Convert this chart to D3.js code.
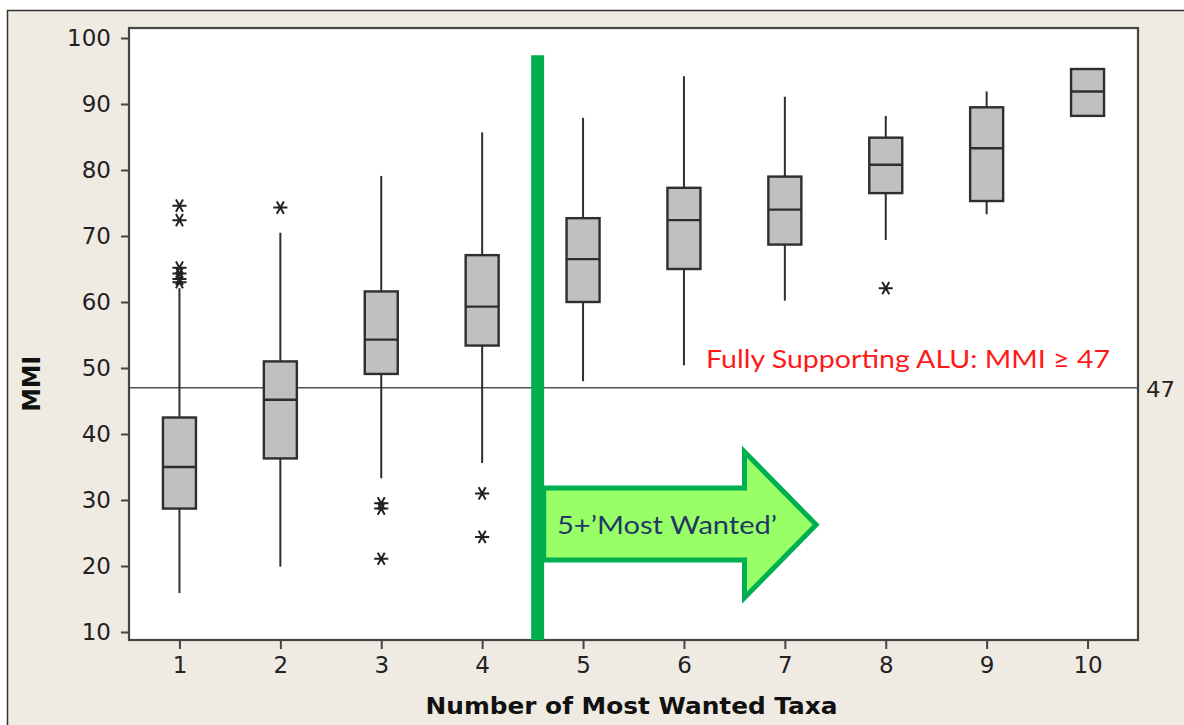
<!DOCTYPE html>
<html>
<head>
<meta charset="utf-8">
<script src="https://cdn.jsdelivr.net/npm/d3@7"></script>
<style>
  html, body { margin: 0; padding: 0; background: #ffffff; }
  svg { display: block; }
</style>
</head>
<body>
<svg id="chart" width="1184" height="725"></svg>
<script>
// ---- data ----
const categories = [1, 2, 3, 4, 5, 6, 7, 8, 9, 10];
const q1Values      = [28.7, 36.3, 49.1, 53.4, 60.0, 65.0, 68.7, 76.5, 75.3, 88.2];
const medianValues  = [35.0, 45.2, 54.3, 59.3, 66.5, 72.4, 74.0, 80.8, 83.3, 91.9];
const q3Values      = [42.5, 51.0, 61.6, 67.1, 72.7, 77.3, 79.0, 84.9, 89.5, 95.3];
const whiskerLow    = [15.9, 19.9, 33.3, 35.6, 48.0, 50.4, 60.2, 69.4, 73.3, 88.2];
const whiskerHigh   = [62.1, 70.5, 79.1, 85.7, 87.9, 94.2, 91.1, 88.2, 91.9, 95.3];
const outlierValues = [
  [74.6, 72.4, 65.2, 64.3, 63.5, 63.0],
  [74.3],
  [29.5, 28.7, 21.1],
  [31.0, 24.4],
  [], [], [],
  [62.1],
  [], []
];
const yTicks = [10, 20, 30, 40, 50, 60, 70, 80, 90, 100];
const thresholdValue = 47;
const dividerX = 4.55;            // position of the green divider (category units)
const dividerTop = 97.4;
const arrowShaft = [31.8, 20.9];  // MMI values of the arrow shaft edges
const arrowHead = [37.3, 15.2];   // MMI values of arrow head edges
const arrowX = [4.61, 6.60, 7.31]; // shaft start, head base, tip (category units)
const arrowLabel = "5+\u2019Most Wanted\u2019";
const thresholdLabel = "Fully Supporting ALU: MMI \u2265 47";
const xTitle = "Number of Most Wanted Taxa";
const yTitle = "MMI";

// ---- layout ----
const W = 1184, H = 725;
const plot = { left: 129, top: 28, right: 1138, bottom: 640 };
const svg = d3.select("#chart");

const x = d3.scaleLinear().domain([0.5, 10.5]).range([plot.left, plot.right]);
const y = d3.scaleLinear().domain([10, 100]).range([632, 38]);

const tickFont = "'DejaVu Sans', sans-serif";
const boldFont = "'DejaVu Sans', sans-serif";

// background / frame
svg.append("rect").attr("x", 0).attr("y", 0).attr("width", W).attr("height", H).attr("fill", "#ffffff");
svg.append("rect").attr("x", 7).attr("y", 10).attr("width", W - 7).attr("height", H - 10).attr("fill", "#efebe2");
svg.append("path")
  .attr("d", `M7.5,${H} L7.5,10.5 L${W},10.5`)
  .attr("fill", "none").attr("stroke", "#333").attr("stroke-width", 1.5);

// plot area
svg.append("rect")
  .attr("x", plot.left).attr("y", plot.top)
  .attr("width", plot.right - plot.left).attr("height", plot.bottom - plot.top)
  .attr("fill", "#ffffff");

// threshold line
svg.append("line")
  .attr("x1", plot.left).attr("x2", plot.right)
  .attr("y1", y(thresholdValue)).attr("y2", y(thresholdValue))
  .attr("stroke", "#555").attr("stroke-width", 1.6);
svg.append("text")
  .attr("x", plot.right + 8).attr("y", y(thresholdValue) + 9)
  .attr("font-family", tickFont).attr("font-size", 22).attr("fill", "#222")
  .attr("textLength", 29).attr("lengthAdjust", "spacingAndGlyphs")
  .text(thresholdValue);

// boxes
const boxW = 33;
const data = categories.map((c, i) => ({
  c, q1: q1Values[i], med: medianValues[i], q3: q3Values[i],
  lo: whiskerLow[i], hi: whiskerHigh[i], out: outlierValues[i]
}));

const g = svg.append("g");
const stroke = "#2e2e2e";
data.forEach(d => {
  const cx = x(d.c);
  if (d.hi > d.q3) g.append("line").attr("x1", cx).attr("x2", cx).attr("y1", y(d.q3)).attr("y2", y(d.hi))
    .attr("stroke", stroke).attr("stroke-width", 2);
  if (d.lo < d.q1) g.append("line").attr("x1", cx).attr("x2", cx).attr("y1", y(d.q1)).attr("y2", y(d.lo))
    .attr("stroke", stroke).attr("stroke-width", 2);
  g.append("rect")
    .attr("x", cx - boxW / 2).attr("y", y(d.q3))
    .attr("width", boxW).attr("height", y(d.q1) - y(d.q3))
    .attr("fill", "#c0c0c0").attr("stroke", stroke).attr("stroke-width", 2.4);
  g.append("line").attr("x1", cx - boxW / 2).attr("x2", cx + boxW / 2)
    .attr("y1", y(d.med)).attr("y2", y(d.med))
    .attr("stroke", stroke).attr("stroke-width", 2.4);
  d.out.forEach(v => {
    g.append("path")
      .attr("d", d3.symbol().type(d3.symbolAsterisk).size(140)())
      .attr("transform", `translate(${cx},${y(v)}) rotate(90)`)
      .attr("fill", "none").attr("stroke", "#222").attr("stroke-width", 2);
  });
});

// plot border
svg.append("rect")
  .attr("x", plot.left).attr("y", plot.top)
  .attr("width", plot.right - plot.left).attr("height", plot.bottom - plot.top)
  .attr("fill", "none").attr("stroke", "#444").attr("stroke-width", 2.2);

// axes
const yAxis = d3.axisLeft(y).tickValues(yTicks).tickSize(8).tickPadding(10);
const yG = svg.append("g").attr("transform", `translate(${plot.left},0)`).call(yAxis);
yG.select(".domain").remove();
yG.selectAll(".tick line").attr("stroke", "#444").attr("stroke-width", 2);
yG.selectAll(".tick text").attr("font-family", tickFont).attr("font-size", 23).attr("fill", "#222");

const xAxis = d3.axisBottom(x).tickValues(categories).tickSize(9).tickPadding(8).tickFormat(d3.format("d"));
const xG = svg.append("g").attr("transform", `translate(0,${plot.bottom})`).call(xAxis);
xG.select(".domain").remove();
xG.selectAll(".tick line").attr("stroke", "#444").attr("stroke-width", 2);
xG.selectAll(".tick text").attr("font-family", tickFont).attr("font-size", 23).attr("fill", "#222");

// titles
svg.append("text")
  .attr("x", (x(1) + x(10)) / 2 - 2).attr("y", 714)
  .attr("text-anchor", "middle")
  .attr("font-family", boldFont).attr("font-weight", "bold").attr("font-size", 23).attr("fill", "#111")
  .attr("textLength", 412).attr("lengthAdjust", "spacingAndGlyphs")
  .text(xTitle);
svg.append("text")
  .attr("transform", `translate(40,${y(47.6)}) rotate(-90)`)
  .attr("text-anchor", "middle")
  .attr("font-family", boldFont).attr("font-weight", "bold").attr("font-size", 24).attr("fill", "#111")
  .attr("textLength", 56).attr("lengthAdjust", "spacingAndGlyphs")
  .text(yTitle);

// threshold label
svg.append("text")
  .attr("x", 706).attr("y", 368)
  .attr("font-family", "Lato, 'Open Sans', sans-serif").attr("font-size", 25).attr("fill", "#ff1a1a")
  .attr("textLength", 404).attr("lengthAdjust", "spacingAndGlyphs")
  .text(thresholdLabel);

// green divider
svg.append("line")
  .attr("x1", x(dividerX)).attr("x2", x(dividerX))
  .attr("y1", y(dividerTop)).attr("y2", plot.bottom)
  .attr("stroke", "#00b050").attr("stroke-width", 13);

// arrow
const ax0 = x(arrowX[0]), ax1 = x(arrowX[1]), ax2 = x(arrowX[2]);
const tipY = y((arrowHead[0] + arrowHead[1]) / 2);
const arrowPts = [
  [ax0, y(arrowShaft[0])], [ax1, y(arrowShaft[0])], [ax1, y(arrowHead[0])],
  [ax2, tipY],
  [ax1, y(arrowHead[1])], [ax1, y(arrowShaft[1])], [ax0, y(arrowShaft[1])]
];
svg.append("path")
  .attr("d", d3.line()(arrowPts) + "Z")
  .attr("fill", "#99ff66").attr("stroke", "#00b050").attr("stroke-width", 5)
  .attr("stroke-linejoin", "miter");
svg.append("text")
  .attr("x", 557).attr("y", 534)
  .attr("font-family", "Lato, 'Open Sans', sans-serif").attr("font-size", 25).attr("fill", "#1f3864")
  .attr("textLength", 220).attr("lengthAdjust", "spacingAndGlyphs")
  .text(arrowLabel);
</script>
</body>
</html>
